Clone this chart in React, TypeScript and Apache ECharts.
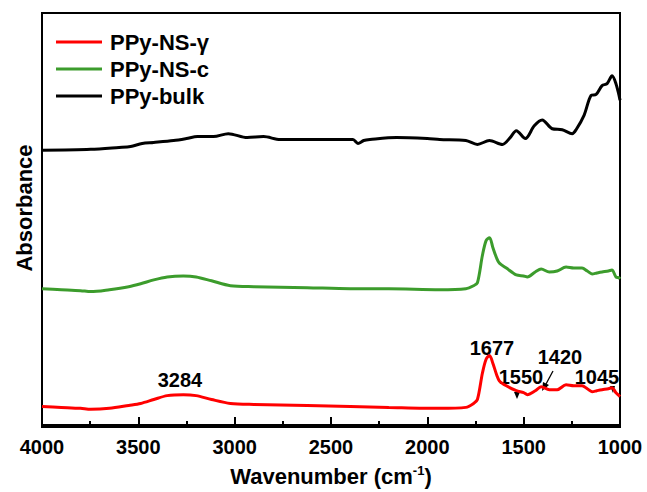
import React, { useEffect, useRef } from "react";
import * as echarts from "echarts";

const seriesNames = ["PPy-NS-γ", "PPy-NS-c", "PPy-bulk"];
const colors = ["#ff0000", "#3c9c2c", "#000000"];

const redWave = [4000, 3900, 3800, 3747, 3650, 3550, 3488, 3420, 3350, 3266, 3200, 3120, 3022, 2900, 2624, 2400, 2200, 1936, 1800, 1760, 1740, 1714, 1695, 1677, 1660, 1640, 1626, 1590, 1538, 1500, 1481, 1440, 1409, 1367, 1326, 1280, 1240, 1197, 1170, 1145, 1120, 1093, 1060, 1042, 1021, 1005, 1000];
const redAbs = [19, 18, 17, 16, 17, 20, 22, 26, 30, 31, 30, 26, 22, 21, 20, 19, 18, 17, 18, 22, 26, 53, 67, 71, 63, 51, 45, 40, 35, 33, 31, 35, 39, 36, 36, 41, 40, 40, 37, 34, 35, 36, 37, 38, 33, 30, 29];

const greenWave = redWave;
const greenAbs = [139, 138, 137, 136, 138, 141, 144, 148, 151, 152, 151, 147, 142, 141, 140, 139, 139, 138, 139, 142, 145, 173, 188, 191, 181, 170, 165, 160, 153, 152, 151, 156, 159, 156, 157, 161, 160, 160, 157, 154, 155, 156, 157, 158, 151, 150, 149];

const blackWave = [4000, 3747, 3600, 3540, 3480, 3421, 3317, 3250, 3193, 3110, 3033, 2935, 2850, 2764, 2600, 2420, 2386, 2360, 2330, 2298, 2159, 2000, 1936, 1800, 1740, 1678, 1610, 1570, 1538, 1491, 1445, 1404, 1352, 1300, 1248, 1228, 1186, 1150, 1124, 1093, 1067, 1041, 1021, 1005, 1000];
const blackAbs = [280, 281, 283, 284, 287, 288, 290, 292, 294, 294, 297, 293, 294, 291, 291, 291, 291, 287, 290, 291, 293, 292, 291, 290, 286, 290, 286, 293, 300, 292, 305, 311, 302, 301, 297, 301, 316, 336, 337, 346, 348, 356, 348, 336, 331];

const xTicks = { min: 1000, max: 4000, interval: 500 };

const annotations = [
  { text: "3284", x: 180, y: 380 },
  { text: "1677", x: 492, y: 348 },
  { text: "1550", x: 521, y: 377 },
  { text: "1420", x: 560, y: 357 },
  { text: "1045", x: 597, y: 377 },
];

function pairs(w: number[], a: number[]) {
  return w.map((x, i) => [x, a[i]]);
}

export default function App() {
  const ref = useRef<HTMLDivElement>(null);
  useEffect(() => {
    if (!ref.current) return;
    const chart = echarts.init(ref.current, null, { renderer: "svg" });
    const datasets = [pairs(redWave, redAbs), pairs(greenWave, greenAbs), pairs(blackWave, blackAbs)];
    const font = "Arial, 'Liberation Sans', sans-serif";
    chart.setOption({
      animation: false,
      backgroundColor: "#ffffff",
      grid: { left: 42, right: 27, top: 13, bottom: 57, show: true, borderColor: "#000", borderWidth: 2 },
      legend: {
        orient: "vertical",
        left: 51,
        top: 26,
        padding: 5,
        icon: "rect",
        itemWidth: 46,
        itemHeight: 3,
        itemGap: 5,
        data: seriesNames,
        textStyle: { fontFamily: font, fontWeight: "bold", fontSize: 22, color: "#000", lineHeight: 22, padding: [0, 0, 0, 3] },
      },
      xAxis: {
        type: "value",
        inverse: true,
        min: xTicks.min,
        max: xTicks.max,
        interval: xTicks.interval,
        name: "Wavenumber (cm{sup|-1})",
        nameLocation: "middle",
        nameGap: 37,
        nameTextStyle: {
          fontFamily: font, fontWeight: "bold", fontSize: 22, color: "#000",
          rich: { sup: { fontFamily: font, fontWeight: "bold", fontSize: 13, color: "#000", verticalAlign: "top", padding: [0, 0, 11, 0] } },
        },
        axisLine: { lineStyle: { color: "#000", width: 2 } },
        axisTick: { inside: true, length: 8, lineStyle: { color: "#000", width: 2 } },
        minorTick: { show: true, splitNumber: 2, length: 4, lineStyle: { color: "#000", width: 2 } },
        axisLabel: { fontFamily: font, fontWeight: "bold", fontSize: 20, color: "#000", margin: 10, formatter: (v: number) => String(v) },
        splitLine: { show: false },
      },
      yAxis: {
        type: "value",
        min: -2,
        max: 420,
        name: "Absorbance",
        nameLocation: "middle",
        nameGap: 7,
        nameTextStyle: { fontFamily: font, fontWeight: "bold", fontSize: 22, color: "#000", padding: [0, 0, 0, 24] },
        axisLine: { show: true, lineStyle: { color: "#000", width: 2 } },
        axisTick: { show: false },
        axisLabel: { show: false },
        splitLine: { show: false },
      },
      series: datasets.map((d, i) => ({
        name: seriesNames[i],
        type: "line",
        data: d,
        symbol: "none",
        smooth: 0.3,
        lineStyle: { color: colors[i], width: 3 },
        itemStyle: { color: colors[i] },
      })),
      graphic: [
        ...annotations.map((a) => ({
          type: "text",
          x: a.x,
          y: a.y,
          style: { text: a.text, fontFamily: font, fontWeight: "bold", fontSize: 20, fill: "#000", align: "center", verticalAlign: "middle" },
        })),
        { type: "polygon", shape: { points: [[514, 392], [520, 392], [517, 399]] }, style: { fill: "#000" } },
        { type: "line", shape: { x1: 553, y1: 371, x2: 546, y2: 384 }, style: { stroke: "#000", lineWidth: 1.3 } },
        { type: "polygon", shape: { points: [[542, 391], [543, 382], [549, 385]] }, style: { fill: "#000" } },
        { type: "polygon", shape: { points: [[610, 386], [615, 386], [613, 393]] }, style: { fill: "#000" } },
      ],
    });
    return () => chart.dispose();
  }, []);
  return <div ref={ref} style={{ position: "fixed", left: 0, top: 0, width: 647, height: 492 }} />;
}
